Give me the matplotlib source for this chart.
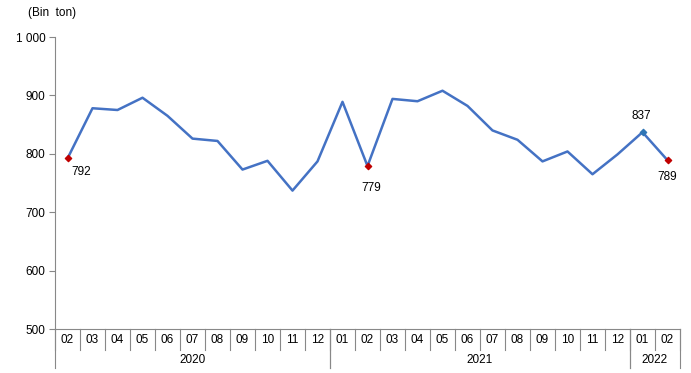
import numpy as np
import matplotlib.pyplot as plt
from matplotlib.ticker import FuncFormatter

plt.rcParams['font.family'] = ['Liberation Sans', 'DejaVu Sans']

# Data
months = ["02", "03", "04", "05", "06", "07", "08", "09", "10", "11", "12",
          "01", "02", "03", "04", "05", "06", "07", "08", "09", "10", "11", "12",
          "01", "02"]
years = ["2020", "2021", "2022"]
year_spans = [(0, 10), (11, 22), (23, 24)]
values = [792, 878, 875, 896, 865, 826, 822, 773, 788, 737, 787,
          889, 779, 894, 890, 908, 882, 840, 824, 787, 804, 765, 799,
          837, 789]
red_idx = [0, 12, 24]
blue_idx = [23]

line_col = "#4472C4"
x = np.arange(len(values))

fig = plt.figure(figsize=(6.91, 3.73), dpi=100)
ax = fig.add_axes([55 / 691, 1 - 329 / 373, 625 / 691, 292 / 373])

ax.plot(x, values, color=line_col, lw=1.8, zorder=2)
ax.scatter(x[red_idx], [values[i] for i in red_idx], marker="D", s=10,
           color="#C00000", zorder=3)
ax.scatter(x[blue_idx], [values[i] for i in blue_idx], marker="D", s=10,
           color="#2E75B6", zorder=3)

# data labels
ax.annotate(str(values[0]), (0, values[0]), xytext=(3, -10), textcoords="offset points",
            fontsize=8.5, ha="left", va="center")
ax.annotate(str(values[12]), (12, values[12]), xytext=(3, -16), textcoords="offset points",
            fontsize=8.5, ha="center", va="center")
ax.annotate(str(values[23]), (23, values[23]), xytext=(-1, 12), textcoords="offset points",
            fontsize=8.5, ha="center", va="center")
ax.annotate(str(values[24]), (24, values[24]), xytext=(0, -12), textcoords="offset points",
            fontsize=8.5, ha="center", va="center")

ax.set_xlim(-0.5, len(values) - 0.5)
ax.set_ylim(500, 1000)
ax.set_yticks(range(500, 1001, 100))
ax.yaxis.set_major_formatter(FuncFormatter(lambda v, p: f"{int(v):,}".replace(",", " ")))
ax.tick_params(axis="y", labelsize=8.5, length=4, color="#888888", pad=3)
ax.set_xticks([])

for s in ["top", "right"]:
    ax.spines[s].set_visible(False)
ax.spines["left"].set_color("#888888")
ax.spines["bottom"].set_color("#888888")

trans = ax.get_xaxis_transform()
# month labels and separators
for i, m in enumerate(months):
    ax.text(i, -0.038, m, transform=trans, ha="center", va="center", fontsize=8.5)
for i in range(len(months) + 1):
    ax.plot([i - 0.5, i - 0.5], [0, -0.072], transform=trans, color="#888888",
            lw=0.8, clip_on=False)
# year labels and separators
for y, (a, b) in zip(years, year_spans):
    ax.text((a + b) / 2, -0.106, y, transform=trans, ha="center", va="center", fontsize=8.5)
    for edge in [a - 0.5, b + 0.5]:
        ax.plot([edge, edge], [0, -0.134], transform=trans, color="#888888",
                lw=0.8, clip_on=False)

fig.text(28 / 691, 1 - 13 / 373, "(Bin  ton)", fontsize=8.5, ha="left", va="center")

fig.savefig("out.png", dpi=100)
